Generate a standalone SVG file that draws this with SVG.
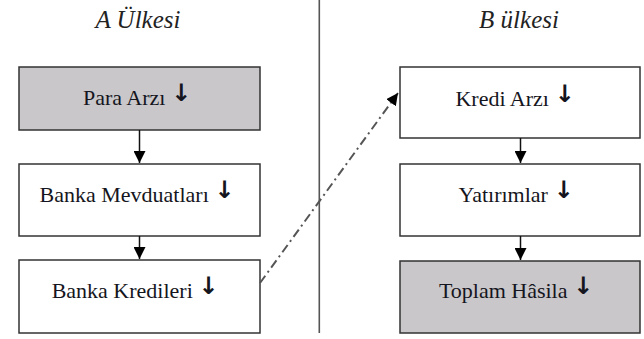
<svg xmlns="http://www.w3.org/2000/svg" width="644" height="339" viewBox="0 0 644 339">
<style>
.box{stroke:#333;stroke-width:1.5;fill:#fff}
.grey{fill:#c9c7ca}
.conn{stroke:#111;stroke-width:1.5;fill:none}
</style>
<defs>
<marker id="ah2" viewBox="0 0 10 10" refX="10" refY="5" markerWidth="12" markerHeight="12" markerUnits="userSpaceOnUse" orient="auto">
<path d="M0,0 L10,5 L0,10 z" fill="#000"/>
</marker>
</defs>
<g font-family="Liberation Serif, serif" font-style="italic" font-size="25" fill="#222" text-anchor="middle">
<text x="138" y="28">A Ülkesi</text>
<text x="519" y="28">B ülkesi</text>
</g>
<line x1="319.3" y1="0" x2="319.3" y2="333" stroke="#555" stroke-width="1.6"/>
<g font-family="Liberation Serif, serif" font-size="22" fill="#151520" text-anchor="middle">
<g id="para-arzi"><rect class="box grey" x="19" y="67" width="241" height="63"/><text x="137" y="105">Para Arzı <tspan font-family="DejaVu Sans, sans-serif" font-weight="bold" font-size="24" dy="-4">↓</tspan></text></g>
<g id="banka-mevduatlari"><rect class="box" x="19" y="164" width="241" height="72"/><text x="137" y="202">Banka Mevduatları <tspan font-family="DejaVu Sans, sans-serif" font-weight="bold" font-size="24" dy="-4">↓</tspan></text></g>
<g id="banka-kredileri"><rect class="box" x="19" y="260" width="241" height="73"/><text x="135" y="298">Banka Kredileri <tspan font-family="DejaVu Sans, sans-serif" font-weight="bold" font-size="24" dy="-4">↓</tspan></text></g>
<g id="kredi-arzi"><rect class="box" x="400" y="67" width="240" height="71"/><text x="515" y="106">Kredi Arzı <tspan font-family="DejaVu Sans, sans-serif" font-weight="bold" font-size="24" dy="-4">↓</tspan></text></g>
<g id="yatirimlar"><rect class="box" x="400" y="164" width="240" height="72"/><text x="516" y="202">Yatırımlar <tspan font-family="DejaVu Sans, sans-serif" font-weight="bold" font-size="24" dy="-4">↓</tspan></text></g>
<g id="toplam-hasila"><rect class="box grey" x="400" y="261" width="240" height="72"/><text x="516" y="298">Toplam Hâsila <tspan font-family="DejaVu Sans, sans-serif" font-weight="bold" font-size="24" dy="-4">↓</tspan></text></g>
</g>
<g id="connectors">
<line class="conn" x1="139.5" y1="130" x2="139.5" y2="163" marker-end="url(#ah2)"/>
<line class="conn" x1="139.5" y1="236" x2="139.5" y2="259" marker-end="url(#ah2)"/>
<line class="conn" x1="520.5" y1="138" x2="520.5" y2="163" marker-end="url(#ah2)"/>
<line class="conn" x1="520.5" y1="236" x2="520.5" y2="260" marker-end="url(#ah2)"/>
<line x1="260" y1="283" x2="398" y2="93" stroke="#555" stroke-width="2" stroke-dasharray="9,4,2,4" marker-end="url(#ah2)"/>
</g>
</svg>
